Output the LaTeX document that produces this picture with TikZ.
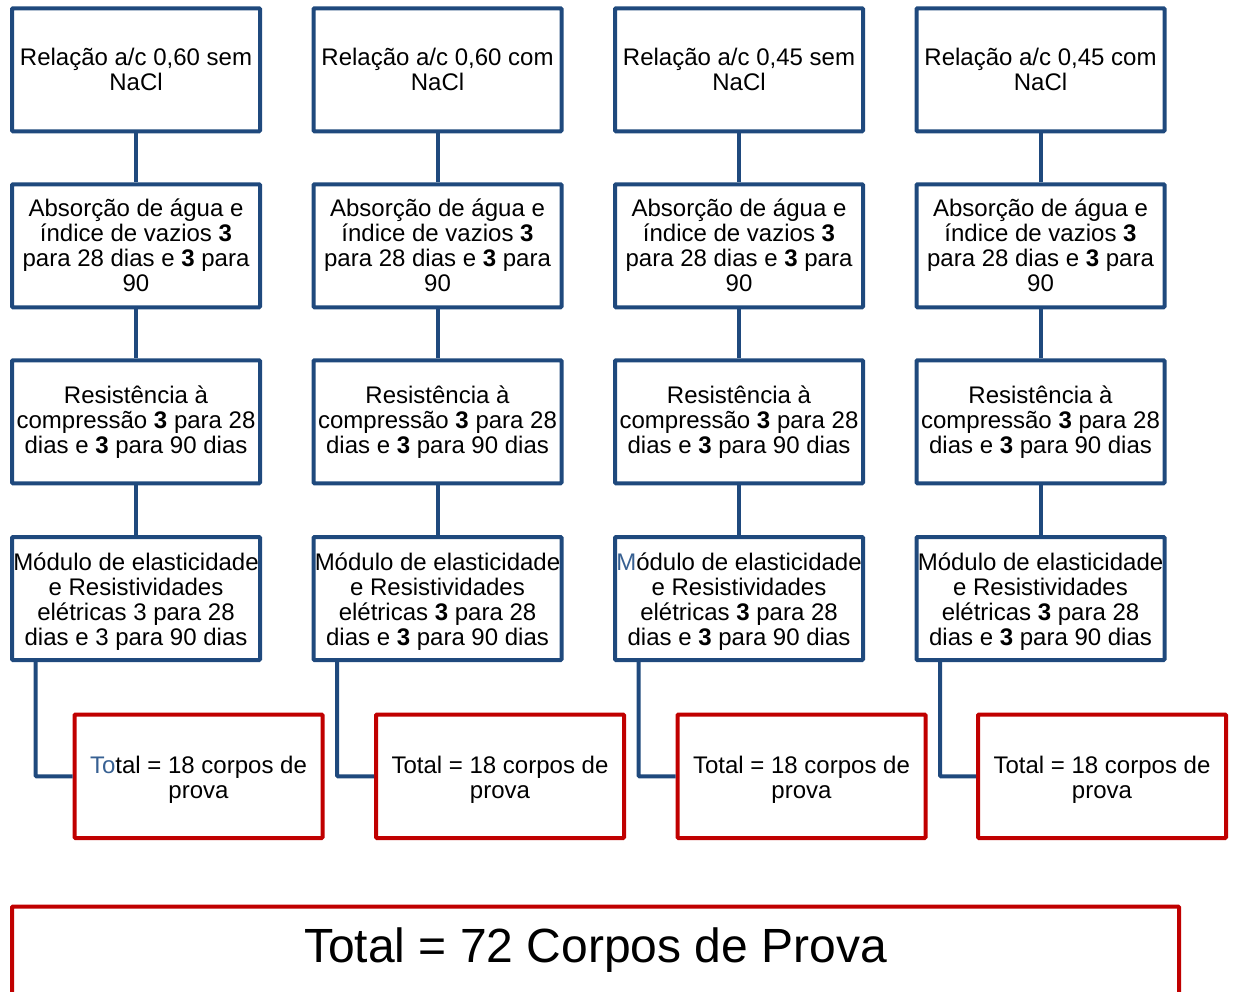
\documentclass[tikz,border=0pt]{standalone}
\usepackage{fontspec}
\setmainfont{Liberation Sans}
\usetikzlibrary{calc}
\definecolor{bblue}{RGB}{31,73,125}
\definecolor{rred}{RGB}{192,0,0}
\definecolor{tblue}{RGB}{55,96,146}
\newcommand{\lowstrut}{\rule{0pt}{23.5pt}}
\begin{document}
\begin{tikzpicture}[x=1pt,y=-1pt,
  bbox/.style={draw=bblue,line width=4pt,minimum width=248pt,minimum height=123pt,
    inner sep=0pt,align=center,font=\fontsize{24}{25}\selectfont,rounded corners=1pt},
  rbox/.style={bbox,draw=rred,minimum height=123.5pt},
  bline/.style={draw=bblue,line width=4pt,rounded corners=1pt},
  bigtext/.style={font=\fontsize{48}{50}\selectfont,inner sep=0pt}
]
\useasboundingbox (0,0) rectangle (1233,991);
\clip (0,0) rectangle (1233,991);

% column 1
\node[bbox] (a1) at (136,69.75) {Relação a/c 0,60 sem\\NaCl};
\node[bbox] (b1) at (136,245.75) {Absorção de água e\\índice de vazios \textbf{3}\\para 28 dias e \textbf{3} para\\90};
\node[bbox] (c1) at (136,421.75) {Resistência à\\compressão \textbf{3} para 28\\dias e \textbf{3} para 90 dias};
\node[bbox] (d1) at (136,598.5) {\lowstrut Módulo de elasticidade\\e Resistividades\\elétricas 3 para 28\\dias e 3 para 90 dias};
\node[rbox] (t1) at (198.5,776.25) {\lowstrut\textcolor{tblue}{To}tal = 18 corpos de\\prova};

% column 2
\node[bbox] (a2) at (437.5,69.75) {Relação a/c 0,60 com\\NaCl};
\node[bbox] (b2) at (437.5,245.75) {Absorção de água e\\índice de vazios \textbf{3}\\para 28 dias e \textbf{3} para\\90};
\node[bbox] (c2) at (437.5,421.75) {Resistência à\\compressão \textbf{3} para 28\\dias e \textbf{3} para 90 dias};
\node[bbox] (d2) at (437.5,598.5) {\lowstrut Módulo de elasticidade\\e Resistividades\\elétricas \textbf{3} para 28\\dias e \textbf{3} para 90 dias};
\node[rbox] (t2) at (500,776.25) {\lowstrut Total = 18 corpos de\\prova};

% column 3
\node[bbox] (a3) at (739,69.75) {Relação a/c 0,45 sem\\NaCl};
\node[bbox] (b3) at (739,245.75) {Absorção de água e\\índice de vazios \textbf{3}\\para 28 dias e \textbf{3} para\\90};
\node[bbox] (c3) at (739,421.75) {Resistência à\\compressão \textbf{3} para 28\\dias e \textbf{3} para 90 dias};
\node[bbox] (d3) at (739,598.5) {\lowstrut\textcolor{tblue}{M}ódulo de elasticidade\\e Resistividades\\elétricas \textbf{3} para 28\\dias e \textbf{3} para 90 dias};
\node[rbox] (t3) at (801.5,776.25) {\lowstrut Total = 18 corpos de\\prova};

% column 4
\node[bbox] (a4) at (1040.5,69.75) {Relação a/c 0,45 com\\NaCl};
\node[bbox] (b4) at (1040.5,245.75) {Absorção de água e\\índice de vazios \textbf{3}\\para 28 dias e \textbf{3} para\\90};
\node[bbox] (c4) at (1040.5,421.75) {Resistência à\\compressão \textbf{3} para 28\\dias e \textbf{3} para 90 dias};
\node[bbox] (d4) at (1040.5,598.5) {\lowstrut Módulo de elasticidade\\e Resistividades\\elétricas \textbf{3} para 28\\dias e \textbf{3} para 90 dias};
\node[rbox] (t4) at (1102,776.25) {\lowstrut Total = 18 corpos de\\prova};

% connectors
\foreach \i in {1,2,3,4}{
  \draw[bline] (a\i) -- (b\i);
  \draw[bline] (b\i) -- (c\i);
  \draw[bline] (c\i) -- (d\i);
  \draw[bline] ($(d\i.south west)+(25.5,0)$) |- (t\i.west);
}

% grand total
\node[rbox,anchor=north,minimum width=1167pt,minimum height=160pt] (all) at (595.5,904.5) {};
\node[bigtext,anchor=base] (alltext) at ($(all.north)+(0,57.5)$) {Total = 72 Corpos de Prova};
\end{tikzpicture}
\end{document}
